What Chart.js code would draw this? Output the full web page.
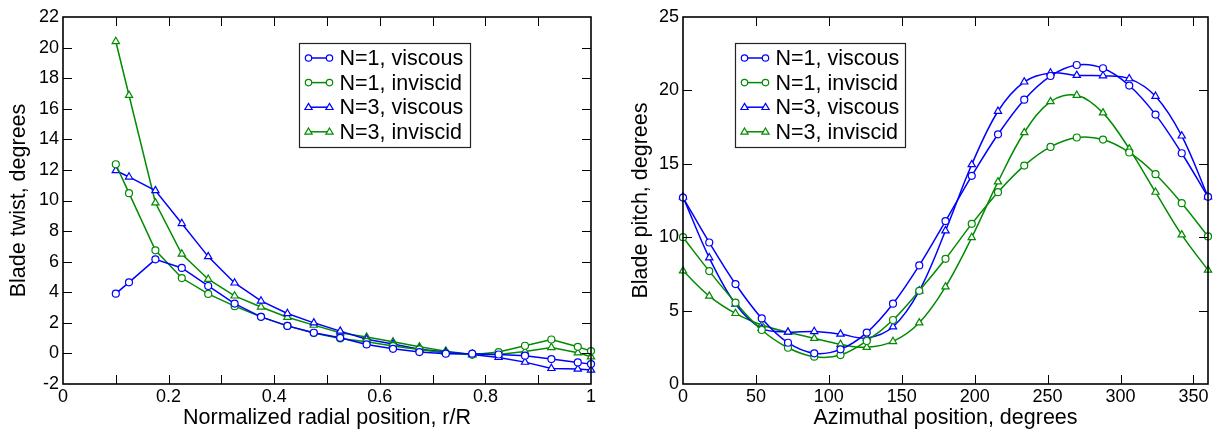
<!DOCTYPE html>
<html>
<head>
<meta charset="utf-8">
<script src="https://cdn.jsdelivr.net/npm/chart.js@4.4.1/dist/chart.umd.min.js"></script>
<style>
  body { margin: 0; background: #fff; }
  .panel { position: absolute; top: 0; height: 431px; }
</style>
</head>
<body>
<div class="panel" style="left:0;width:609px"><canvas id="twist"></canvas></div>
<div class="panel" style="left:609px;width:610px"><canvas id="pitch"></canvas></div>
<script>
// left panel: blade twist vs r/R
const radial = [0.1, 0.125, 0.175, 0.225, 0.275, 0.325, 0.375, 0.425, 0.475, 0.525,
                0.575, 0.625, 0.675, 0.725, 0.775, 0.825, 0.875, 0.925, 0.975, 1.0];
const twistN1Visc = [3.91, 4.65, 6.15, 5.59, 4.41, 3.26, 2.39, 1.8, 1.35, 1.02,
                     0.59, 0.3, 0.09, -0.02, -0.02, -0.07, -0.15, -0.37, -0.59, -0.7];
const twistN1Inv  = [12.37, 10.48, 6.74, 4.93, 3.89, 3.09, 2.39, 1.8, 1.33, 0.98,
                     0.76, 0.48, 0.26, 0.02, -0.09, 0.09, 0.5, 0.91, 0.43, 0.15];
const twistN3Visc = [11.96, 11.54, 10.65, 8.5, 6.33, 4.61, 3.43, 2.61, 2.0, 1.46,
                     0.93, 0.61, 0.28, 0.09, -0.07, -0.26, -0.57, -0.98, -1.02, -1.09];
const twistN3Inv  = [20.4, 16.88, 9.85, 6.5, 4.85, 3.76, 3.04, 2.37, 1.85, 1.35,
                     1.07, 0.76, 0.43, 0.15, -0.07, -0.07, 0.13, 0.39, 0.04, -0.22];

// right panel: blade pitch vs azimuth
const azimuth = [0, 18, 36, 54, 72, 90, 108, 126, 144, 162, 180,
                 198, 216, 234, 252, 270, 288, 306, 324, 342, 360];
const pitchN1Visc = [12.7, 9.64, 6.81, 4.47, 2.81, 2.09, 2.36, 3.5, 5.47, 8.08, 11.1,
                     14.18, 17.01, 19.37, 20.98, 21.73, 21.51, 20.33, 18.35, 15.72, 12.75];
const pitchN1Inv  = [10.0, 7.69, 5.54, 3.68, 2.47, 1.86, 1.97, 2.93, 4.36, 6.35, 8.53,
                     10.91, 13.07, 14.88, 16.15, 16.79, 16.65, 15.77, 14.29, 12.32, 10.05];
const pitchN3Visc = [12.75, 8.6, 5.45, 3.79, 3.54, 3.58, 3.4, 3.13, 3.9, 6.35, 10.44,
                     14.95, 18.58, 20.58, 21.19, 21.03, 21.0, 20.8, 19.6, 16.9, 12.75];
const pitchN3Inv  = [7.71, 5.99, 4.81, 4.02, 3.52, 3.11, 2.7, 2.5, 2.9, 4.17, 6.62,
                     9.98, 13.77, 17.13, 19.24, 19.67, 18.47, 16.02, 13.07, 10.16, 7.76];

const seriesLabels = ['N=1, viscous', 'N=1, inviscid', 'N=3, viscous', 'N=3, inviscid'];
const BLUE = '#0000ff', GREEN = '#008b00';
const FONT = "'Liberation Sans', Arial, Helvetica, sans-serif";

function pts(xs, ys) { return xs.map((x, i) => ({x: x, y: ys[i]})); }

function makeSets(xs, all, tension) {
  const colors = [BLUE, GREEN, BLUE, GREEN];
  const shapes = ['circle', 'circle', 'triangle', 'triangle'];
  return all.map((ys, i) => ({
    label: seriesLabels[i],
    data: pts(xs, ys),
    borderColor: colors[i],
    borderWidth: 1.5,
    pointStyle: shapes[i],
    pointRadius: shapes[i] === 'circle' ? 3.5 : 4.2,
    pointBorderWidth: 1.2,
    pointBorderColor: colors[i],
    pointBackgroundColor: '#fff',
    tension: tension,
    clip: false
  }));
}

// frame around the plot + inward tick marks on all four sides
const framePlugin = {
  id: 'frame',
  afterDatasetsDraw(chart, args, opts) {
    const {ctx, chartArea: a, scales} = chart;
    const L = 9;
    ctx.save();
    ctx.strokeStyle = '#000';
    ctx.lineWidth = 1;
    ctx.beginPath();
    scales.x.ticks.forEach(t => {
      if (t.value <= scales.x.min || t.value >= scales.x.max) return;
      const px = Math.round(scales.x.getPixelForValue(t.value)) + 0.5;
      ctx.moveTo(px, a.bottom); ctx.lineTo(px, a.bottom - L);
      ctx.moveTo(px, a.top); ctx.lineTo(px, a.top + L);
    });
    scales.y.ticks.forEach(t => {
      if (t.value <= scales.y.min || t.value >= scales.y.max) return;
      const py = Math.round(scales.y.getPixelForValue(t.value)) + 0.5;
      ctx.moveTo(a.left, py); ctx.lineTo(a.left + L, py);
      ctx.moveTo(a.right, py); ctx.lineTo(a.right - L, py);
    });
    ctx.stroke();
    ctx.lineWidth = 1.6;
    ctx.strokeRect(a.left, a.top, a.right - a.left, a.bottom - a.top);
    ctx.restore();
  }
};

function marker(ctx, shape, x, y, r) {
  ctx.beginPath();
  if (shape === 'circle') {
    ctx.arc(x, y, r, 0, Math.PI * 2);
  } else {
    ctx.moveTo(x, y - r);
    ctx.lineTo(x + r * 0.95, y + r * 0.6);
    ctx.lineTo(x - r * 0.95, y + r * 0.6);
    ctx.closePath();
  }
  ctx.fill();
  ctx.stroke();
}

// boxed legend inside the plot, line sample with a marker at both ends
const boxLegend = {
  id: 'boxLegend',
  afterDraw(chart, args, opts) {
    const {ctx, chartArea: a} = chart;
    const x0 = Math.round(a.left + opts.left) + 0.5;
    const y0 = Math.round(a.top + opts.top) + 0.5;
    ctx.save();
    ctx.fillStyle = '#fff';
    ctx.fillRect(x0, y0, opts.width, opts.height);
    ctx.strokeStyle = '#222';
    ctx.lineWidth = 1.2;
    ctx.strokeRect(x0, y0, opts.width, opts.height);
    chart.data.datasets.forEach((ds, i) => {
      const y = y0 + 14.5 + i * 24.6;
      ctx.strokeStyle = ds.borderColor;
      ctx.lineWidth = 1.5;
      ctx.beginPath();
      ctx.moveTo(x0 + 9, y); ctx.lineTo(x0 + 30, y);
      ctx.stroke();
      ctx.fillStyle = '#fff';
      ctx.lineWidth = 1.2;
      const r = ds.pointStyle === 'circle' ? 3.2 : 3.8;
      marker(ctx, ds.pointStyle, x0 + 9, y, r);
      marker(ctx, ds.pointStyle, x0 + 30, y, r);
      ctx.fillStyle = '#000';
      ctx.font = '21.5px ' + FONT;
      ctx.textBaseline = 'middle';
      ctx.textAlign = 'left';
      ctx.fillText(ds.label, x0 + 40, y + 1);
    });
    ctx.restore();
  }
};

function axis(title, min, max, step, cb, fit, titlePad, tickPad) {
  return {
    type: 'linear', min: min, max: max,
    grid: {display: false, drawTicks: false}, border: {display: false},
    ticks: {stepSize: step, autoSkip: false, maxRotation: 0, padding: tickPad,
            includeBounds: false, color: '#000',
            font: {family: FONT, size: 18}, callback: cb},
    title: {display: true, text: title, color: '#000', padding: titlePad,
            font: {family: FONT, size: 21.5}},
    afterFit: fit
  };
}

Chart.defaults.animation = false;

new Chart(document.getElementById('twist'), {
  type: 'line',
  data: {datasets: makeSets(radial, [twistN1Visc, twistN1Inv, twistN3Visc, twistN3Inv], 0)},
  options: {
    responsive: true, maintainAspectRatio: false,
    layout: {padding: {left: 0, top: 17, right: 18, bottom: 0}},
    plugins: {
      legend: {display: false}, tooltip: {enabled: false},
      boxLegend: {left: 236, top: 25.5, width: 171, height: 104}
    },
    scales: {
      x: axis('Normalized radial position, r/R', 0, 1, 0.1, v => {
        const k = Math.round(v * 10);
        if (k % 2) return '';
        return k === 0 ? '0' : k === 10 ? '1' : (k / 10).toFixed(1);
      }, s => { s.height = 47; }, {top: 0, bottom: 0}, 2),
      y: axis('Blade twist, degrees', -2, 22, 2, v => String(v),
        s => { s.width = 63; }, {top: 6, bottom: 0}, 4)
    }
  },
  plugins: [framePlugin, boxLegend]
});

new Chart(document.getElementById('pitch'), {
  type: 'line',
  data: {datasets: makeSets(azimuth, [pitchN1Visc, pitchN1Inv, pitchN3Visc, pitchN3Inv], 0.35)},
  options: {
    responsive: true, maintainAspectRatio: false,
    layout: {padding: {left: 0, top: 17, right: 11, bottom: 0}},
    plugins: {
      legend: {display: false}, tooltip: {enabled: false},
      boxLegend: {left: 52, top: 25.5, width: 170, height: 104}
    },
    scales: {
      x: axis('Azimuthal position, degrees', 0, 360, 50, v => (v % 50 === 0 ? String(v) : ''),
        s => { s.height = 47; }, {top: 0, bottom: 0}, 2),
      y: axis('Blade pitch, degrees', 0, 25, 5, v => String(v),
        s => { s.width = 74; }, {top: 19, bottom: 0}, 4)
    }
  },
  plugins: [framePlugin, boxLegend]
});
</script>
</body>
</html>
